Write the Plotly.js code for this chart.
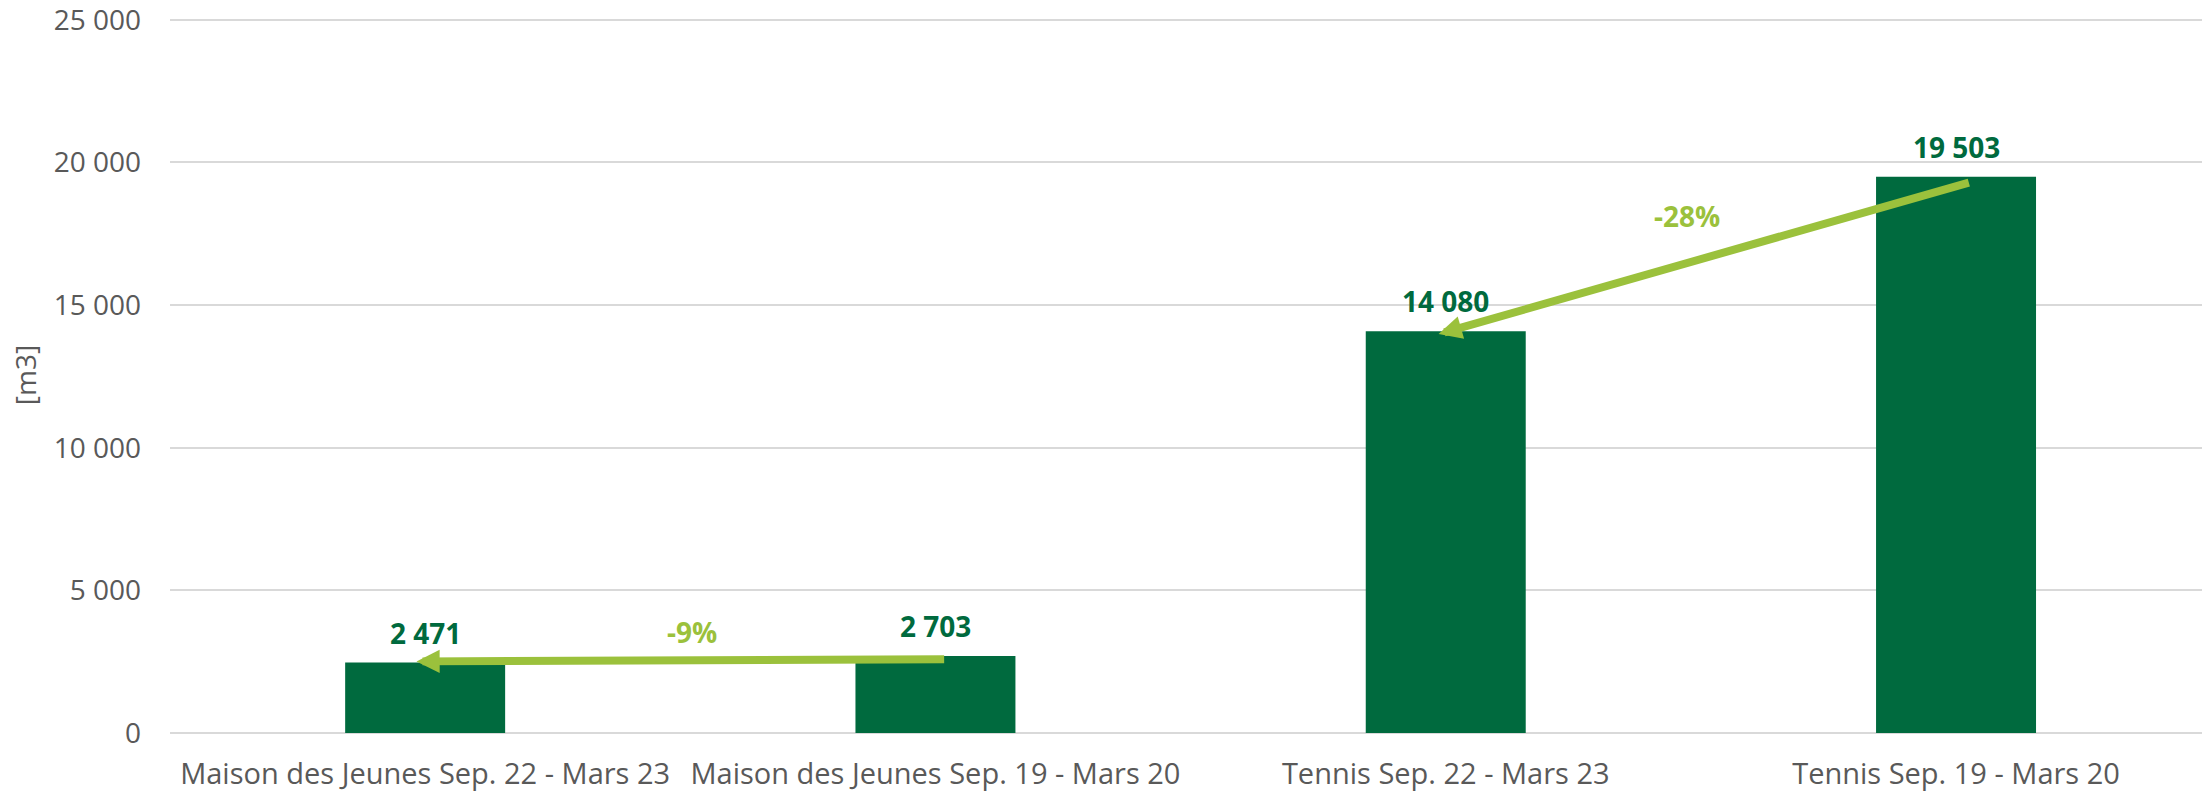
<!DOCTYPE html>
<html>
<head>
<meta charset="utf-8">
<script src="https://cdn.plot.ly/plotly-3.0.1.min.js"></script>
<style>
  html, body { margin: 0; padding: 0; background: #ffffff; }
  #chart { width: 2202px; height: 795px; }
</style>
</head>
<body>
<div id="chart"></div>
<script>
// ---- data ----
const categories = [
  "Maison des Jeunes Sep. 22 - Mars 23",
  "Maison des Jeunes Sep. 19 - Mars 20",
  "Tennis Sep. 22 - Mars 23",
  "Tennis Sep. 19 - Mars 20"
];
const volumes = [2471, 2703, 14080, 19503];
const valueLabels = ["2 471", "2 703", "14 080", "19 503"];
const yTickVals = [0, 5000, 10000, 15000, 20000, 25000];
const yTickText = ["0", "5 000", "10 000", "15 000", "20 000", "25 000"];
const yTitle = "[m3]";
// comparisons: [from index, to index]
const comparisons = [[1, 0], [3, 2]];

// ---- style ----
const barColor = "#006a3e";
const arrowColor = "#9bc13c";
const tickColor = "#595959";
const gridColor = "#d9d9d9";
const fontFamily = "'Open Sans', 'Noto Sans', sans-serif";
// arrow geometry tweaks (offsets relative to bar tops, in axis units)
const arrowGeom = [
  { tailDx: 0.02, tailDy: -116, tipDx: -0.017, tipDy: 39, lblDx: 12, lblDy: 27 },
  { tailDx: 0.028, tailDy: -191, tipDx: -0.014, tipDy: -96, lblDx: -14, lblDy: 38 }
];

const idx = categories.map((c, i) => i);

const trace = {
  type: "bar",
  x: idx,
  y: volumes,
  width: 0.3135,
  marker: { color: barColor, line: { width: 0 } },
  hoverinfo: "skip"
};

const annotations = [];
// value labels
idx.forEach(i => {
  annotations.push({
    x: i, y: volumes[i], xref: "x", yref: "y",
    text: "<b>" + valueLabels[i] + "</b>",
    showarrow: false, yanchor: "bottom", xanchor: "center",
    yshift: 9,
    font: { family: fontFamily, size: 28, color: barColor }
  });
});
// arrows + percentage labels
comparisons.forEach((pair, k) => {
  const [from, to] = pair;
  const g = arrowGeom[k];
  const pct = Math.round((volumes[to] - volumes[from]) / volumes[from] * 100);
  annotations.push({
    x: to + g.tipDx, y: volumes[to] + g.tipDy,
    ax: from + g.tailDx, ay: volumes[from] + g.tailDy,
    xref: "x", yref: "y", axref: "x", ayref: "y",
    text: "", showarrow: true,
    arrowhead: 2, arrowsize: 0.58, arrowwidth: 8, arrowcolor: arrowColor,
    standoff: 0, startstandoff: 0
  });
  annotations.push({
    x: (from + to) / 2, y: (volumes[from] + volumes[to]) / 2,
    xref: "x", yref: "y",
    text: "<b>" + pct + "%</b>",
    showarrow: false, xanchor: "center", yanchor: "middle",
    xshift: g.lblDx, yshift: g.lblDy,
    font: { family: fontFamily, size: 28, color: arrowColor }
  });
});

const layout = {
  width: 2202,
  height: 795,
  margin: { l: 170, r: 0, t: 17, b: 62, pad: 0 },
  paper_bgcolor: "#ffffff",
  plot_bgcolor: "#ffffff",
  showlegend: false,
  font: { family: fontFamily, color: tickColor, size: 28 },
  xaxis: {
    type: "linear",
    range: [-0.5, 3.482],
    tickmode: "array",
    tickvals: idx,
    ticktext: categories,
    showgrid: false,
    zeroline: false,
    showline: false,
    ticks: "",
    ticklabelstandoff: 21,
    ticklabeloverflow: "allow",
    tickfont: { family: fontFamily, size: 29, color: tickColor },
    fixedrange: true
  },
  yaxis: {
    range: [0, 25100],
    tickmode: "array",
    tickvals: yTickVals,
    ticktext: yTickText,
    showgrid: true,
    gridcolor: gridColor,
    gridwidth: 2,
    zeroline: true,
    zerolinecolor: gridColor,
    zerolinewidth: 2,
    showline: false,
    ticks: "",
    ticklabelstandoff: 28,
    ticklabeloverflow: "allow",
    tickfont: { family: fontFamily, size: 28, color: tickColor },
    title: { text: yTitle, font: { family: fontFamily, size: 28, color: tickColor }, standoff: 8 },
    fixedrange: true
  },
  annotations: annotations
};

Plotly.newPlot("chart", [trace], layout, { displayModeBar: false, staticPlot: true });
</script>
</body>
</html>
